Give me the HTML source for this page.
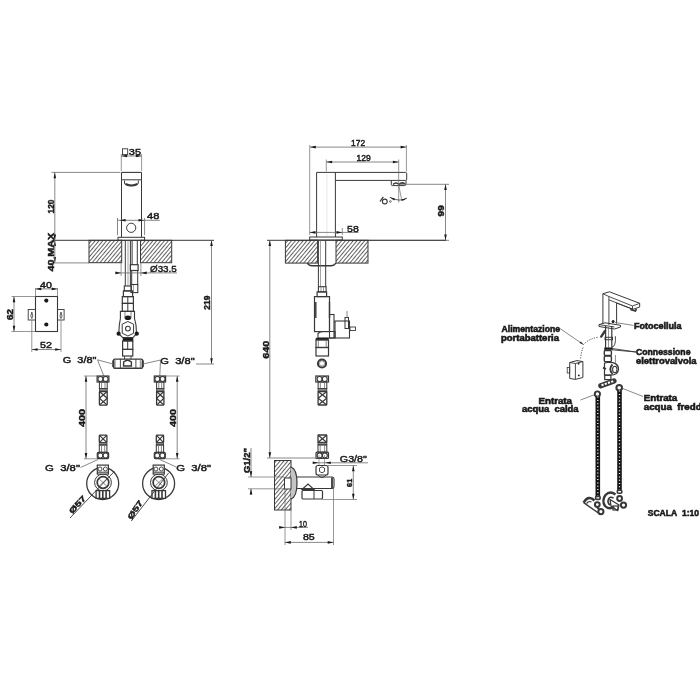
<!DOCTYPE html>
<html><head><meta charset="utf-8"><style>
html,body{margin:0;padding:0;background:#fff;width:700px;height:700px;overflow:hidden}
svg{display:block;will-change:transform}
text{font-family:"Liberation Sans",sans-serif;fill:#1a1a1a;stroke:#1a1a1a;stroke-width:0.55}
</style></head><body>
<svg width="700" height="700" viewBox="0 0 700 700">
<defs>
<pattern id="hatch" patternUnits="userSpaceOnUse" width="2.95" height="2.95" patternTransform="rotate(40)">
<line x1="0" y1="0" x2="0" y2="2.95" stroke="#202020" stroke-width="1.4"/>
</pattern>
</defs>
<g stroke="#383838" fill="none" stroke-linecap="butt">
<line x1="121.5" y1="172.4" x2="141.5" y2="172.4" stroke-width="1.1" />
<line x1="121.5" y1="172.4" x2="121.5" y2="237.3" stroke-width="1.0" />
<line x1="141.5" y1="172.4" x2="141.5" y2="237.3" stroke-width="1.0" />
<line x1="121.3" y1="179.8" x2="141.6" y2="179.8" stroke-width="1.0" />
<path d="M124.5,180.5 L124.5,183 Q125,186 131.4,186 Q137.8,186 138.3,183 L138.3,180.5" fill="none" stroke-width="1.0" />
<path d="M125.5,183.8 Q131.4,187 137.5,183.8" fill="none" stroke-width="1.8" />
<line x1="121.3" y1="154" x2="121.3" y2="171" stroke-width="0.7" stroke="#6a6a6a" />
<line x1="141.6" y1="154" x2="141.6" y2="171" stroke-width="0.7" stroke="#6a6a6a" />
<line x1="121.3" y1="156" x2="141.6" y2="156" stroke-width="0.8" stroke="#6a6a6a" />
<polygon points="121.3,156 127.1,154.7 127.1,157.3" fill="#1a1a1a" stroke="none"/>
<polygon points="141.6,156 135.8,157.3 135.8,154.7" fill="#1a1a1a" stroke="none"/>
<rect x="122.5" y="148.8" width="5.2" height="5.8" fill="none" stroke-width="0.9"/>
<text transform="translate(134.9,151.9) rotate(0) scale(1,0.8)" x="0" y="3.87" font-size="10.92" text-anchor="middle" font-weight="normal" textLength="12.2" lengthAdjust="spacingAndGlyphs">35</text>
<line x1="51.5" y1="172.4" x2="120.5" y2="172.4" stroke-width="0.8" stroke="#6a6a6a" />
<line x1="54.8" y1="172.4" x2="54.8" y2="240.3" stroke-width="0.8" stroke="#6a6a6a" />
<polygon points="54.8,172.4 56.1,178.2 53.5,178.2" fill="#1a1a1a" stroke="none"/>
<polygon points="54.8,240.3 53.5,234.5 56.1,234.5" fill="#1a1a1a" stroke="none"/>
<text transform="translate(50.65,206.5) rotate(-90) scale(1,0.8)" x="0" y="4.19" font-size="11.8" text-anchor="middle" stroke-width="0.45" font-weight="bold" textLength="14" lengthAdjust="spacingAndGlyphs">120</text>
<line x1="117.5" y1="218" x2="117.5" y2="235.2" stroke-width="0.8" stroke="#6a6a6a" />
<line x1="144.6" y1="218" x2="144.6" y2="235.2" stroke-width="0.8" stroke="#6a6a6a" />
<circle cx="131.2" cy="227.8" r="4.6" fill="none" stroke-width="1.0"/>
<line x1="117.5" y1="220.3" x2="159.9" y2="220.3" stroke-width="0.8" stroke="#6a6a6a" />
<polygon points="119.8,220.3 125.6,219 125.6,221.6" fill="#1a1a1a" stroke="none"/>
<polygon points="144.3,220.3 138.5,221.6 138.5,219" fill="#1a1a1a" stroke="none"/>
<text transform="translate(153.15,216) rotate(0) scale(1,0.8)" x="0" y="3.75" font-size="10.56" text-anchor="middle" font-weight="normal" textLength="12.3" lengthAdjust="spacingAndGlyphs">48</text>
<rect x="118" y="237.3" width="26.6" height="3" fill="none" stroke-width="1.0"/>
<line x1="51.5" y1="240.3" x2="214" y2="240.3" stroke-width="1.0" />
<line x1="51.5" y1="262.9" x2="89" y2="262.9" stroke-width="0.8" stroke="#6a6a6a" />
<text transform="translate(51,252.15) rotate(-90) scale(1,0.8)" x="0" y="3.75" font-size="10.56" text-anchor="middle" stroke-width="0.45" font-weight="bold" textLength="38.9" lengthAdjust="spacingAndGlyphs">40 MAX</text>
<polygon points="54.8,240.3 56.1,246.1 53.5,246.1" fill="#1a1a1a" stroke="none"/>
<polygon points="54.8,262.9 53.5,257.1 56.1,257.1" fill="#1a1a1a" stroke="none"/>
<line x1="54.8" y1="240.3" x2="54.8" y2="262.9" stroke-width="0.8" stroke="#6a6a6a" />
<rect x="89" y="240.3" width="32.7" height="22.4" fill="url(#hatch)" stroke-width="1.0"/>
<rect x="140.5" y="240.3" width="31.2" height="22.4" fill="url(#hatch)" stroke-width="1.0"/>
<line x1="125.3" y1="240.3" x2="125.3" y2="286" stroke-width="1.0" />
<line x1="130.4" y1="240.3" x2="130.4" y2="286" stroke-width="1.0" />
<line x1="128" y1="240.3" x2="128" y2="286" stroke-width="0.6" stroke="#6a6a6a" />
<line x1="132.1" y1="240.3" x2="132.1" y2="264.7" stroke-width="1.0" />
<line x1="137.3" y1="240.3" x2="137.3" y2="264.7" stroke-width="1.0" />
<rect x="130.4" y="264.7" width="7.7" height="5.8" fill="none" stroke-width="1.2"/>
<line x1="131.7" y1="270.5" x2="131.7" y2="284.6" stroke-width="1.0" />
<line x1="137.7" y1="270.5" x2="137.7" y2="284.6" stroke-width="1.0" />
<rect x="131" y="284.5" width="6.8" height="8.1" fill="none" stroke-width="1.1"/>
<line x1="133.5" y1="285" x2="133.5" y2="292.6" stroke-width="0.6" stroke="#6a6a6a" />
<line x1="121.1" y1="262.9" x2="121.1" y2="276" stroke-width="0.7" stroke="#6a6a6a" />
<line x1="140.9" y1="262.9" x2="140.9" y2="276" stroke-width="0.7" stroke="#6a6a6a" />
<line x1="116" y1="272.9" x2="177" y2="272.9" stroke-width="0.8" stroke="#6a6a6a" />
<polygon points="121.1,272.9 115.3,274.2 115.3,271.6" fill="#1a1a1a" stroke="none"/>
<polygon points="140.9,272.9 146.7,271.6 146.7,274.2" fill="#1a1a1a" stroke="none"/>
<text transform="translate(163.38,268.5) rotate(0) scale(1,0.8)" x="0" y="4.06" font-size="11.44" text-anchor="middle" font-weight="normal" textLength="26.75" lengthAdjust="spacingAndGlyphs">Ø33.5</text>
<line x1="211.5" y1="240.3" x2="211.5" y2="364" stroke-width="0.8" stroke="#6a6a6a" />
<polygon points="211.5,240.3 212.8,246.1 210.2,246.1" fill="#1a1a1a" stroke="none"/>
<polygon points="211.5,364 210.2,358.2 212.8,358.2" fill="#1a1a1a" stroke="none"/>
<text transform="translate(206.8,302.62) rotate(-90) scale(1,0.8)" x="0" y="4.38" font-size="12.32" text-anchor="middle" stroke-width="0.45" font-weight="bold" textLength="14.25" lengthAdjust="spacingAndGlyphs">219</text>
<line x1="196" y1="364" x2="214" y2="364" stroke-width="0.8" stroke="#6a6a6a" />
<rect x="35.5" y="296.5" width="22" height="35" fill="none" stroke-width="1.1"/>
<circle cx="46.3" cy="300.6" r="2.1" fill="#1a1a1a" stroke-width="0"/>
<circle cx="46.3" cy="324.5" r="2.1" fill="#1a1a1a" stroke-width="0"/>
<rect x="28.2" y="309.5" width="7.3" height="10.5" fill="none" stroke-width="0.9"/>
<rect x="57.5" y="309.5" width="6.6" height="10.5" fill="none" stroke-width="0.9"/>
<path d="M31.8,318.5 Q29.8,317 31.8,312 Q33.8,317 31.8,318.5 Z" fill="none" stroke-width="0.8" />
<path d="M61,318.5 Q59,317 61,312 Q63,317 61,318.5 Z" fill="none" stroke-width="0.8" />
<line x1="35.5" y1="288" x2="35.5" y2="296.5" stroke-width="0.7" stroke="#6a6a6a" />
<line x1="57.5" y1="288" x2="57.5" y2="296.5" stroke-width="0.7" stroke="#6a6a6a" />
<line x1="35.5" y1="288.9" x2="57.5" y2="288.9" stroke-width="0.8" stroke="#6a6a6a" />
<polygon points="35.5,288.9 41.3,287.6 41.3,290.2" fill="#1a1a1a" stroke="none"/>
<polygon points="57.5,288.9 51.7,290.2 51.7,287.6" fill="#1a1a1a" stroke="none"/>
<text transform="translate(45.9,284.75) rotate(0) scale(1,0.8)" x="0" y="3.69" font-size="10.39" text-anchor="middle" font-weight="normal" textLength="11.8" lengthAdjust="spacingAndGlyphs">40</text>
<line x1="11.5" y1="296.5" x2="35.5" y2="296.5" stroke-width="0.7" stroke="#6a6a6a" />
<line x1="11.5" y1="331.5" x2="35.5" y2="331.5" stroke-width="0.7" stroke="#6a6a6a" />
<line x1="14" y1="296.5" x2="14" y2="331.5" stroke-width="0.8" stroke="#6a6a6a" />
<polygon points="14,296.5 15.3,302.3 12.7,302.3" fill="#1a1a1a" stroke="none"/>
<polygon points="14,331.5 12.7,325.7 15.3,325.7" fill="#1a1a1a" stroke="none"/>
<text transform="translate(10.15,314.5) rotate(-90) scale(1,0.8)" x="0" y="3.94" font-size="11.09" text-anchor="middle" stroke-width="0.45" font-weight="bold" textLength="11" lengthAdjust="spacingAndGlyphs">62</text>
<line x1="31.8" y1="320" x2="31.8" y2="352" stroke-width="0.7" stroke="#6a6a6a" />
<line x1="61" y1="320" x2="61" y2="352" stroke-width="0.7" stroke="#6a6a6a" />
<line x1="31.8" y1="349.5" x2="61" y2="349.5" stroke-width="0.8" stroke="#6a6a6a" />
<polygon points="31.8,349.5 37.6,348.2 37.6,350.8" fill="#1a1a1a" stroke="none"/>
<polygon points="61,349.5 55.2,350.8 55.2,348.2" fill="#1a1a1a" stroke="none"/>
<text transform="translate(46.05,345.05) rotate(0) scale(1,0.8)" x="0" y="3.81" font-size="10.74" text-anchor="middle" font-weight="normal" textLength="11.9" lengthAdjust="spacingAndGlyphs">52</text>
<rect x="124.3" y="286" width="7.1" height="4.9" fill="none" stroke-width="1.1"/>
<rect x="123.4" y="290.9" width="9.2" height="5.7" fill="none" stroke-width="1.2"/>
<rect x="122.3" y="296.6" width="11.1" height="6.8" fill="none" stroke-width="1.2"/>
<rect x="122.3" y="303.4" width="11.1" height="8" fill="none" stroke-width="1.2"/>
<line x1="127.8" y1="296.6" x2="127.8" y2="311.4" stroke-width="1.0" />
<path d="M120.4,311.4 L134.5,311.4 L134.5,318.5 L136,325 L136.5,333.7 L133,337.5 L122.5,337.5 L118.8,333.7 L119.3,325 L120.4,318.5 Z" fill="none" stroke-width="1.1" />
<path d="M122.2,324.2 L127.9,321.5 L133.6,324.2 L133.6,333.2 L127.9,336 L122.2,333.2 Z" fill="none" stroke-width="1.0" />
<circle cx="127.9" cy="328.6" r="2.4" fill="none" stroke-width="1.1"/>
<ellipse cx="127.9" cy="317.8" rx="3.3" ry="2.3" fill="#1a1a1a" stroke-width="0" transform="rotate(0 127.9 317.8)"/>
<line x1="125" y1="312" x2="125" y2="318" stroke-width="0.8" stroke="#6a6a6a" />
<line x1="131" y1="312" x2="131" y2="318" stroke-width="0.8" stroke="#6a6a6a" />
<circle cx="118.6" cy="333.7" r="2.1" fill="#1a1a1a" stroke-width="0"/>
<circle cx="136.8" cy="333.7" r="2.1" fill="#1a1a1a" stroke-width="0"/>
<rect x="123" y="338" width="10" height="3" fill="#1a1a1a" stroke-width="0.6"/>
<rect x="122.6" y="341" width="10.2" height="8.4" fill="none" stroke-width="1.2"/>
<line x1="127.7" y1="341" x2="127.7" y2="349.4" stroke-width="1.0" />
<rect x="122.6" y="349.4" width="10.2" height="6.6" fill="none" stroke-width="1.2"/>
<line x1="124.5" y1="356" x2="124.5" y2="359.1" stroke-width="0.9" />
<line x1="131" y1="356" x2="131" y2="359.1" stroke-width="0.9" />
<rect x="113.4" y="359.1" width="29.3" height="9.1" fill="none" stroke-width="1.4" rx="1.5"/>
<line x1="113.4" y1="360.5" x2="113.4" y2="367" stroke-width="2.2" />
<line x1="142.7" y1="360.5" x2="142.7" y2="367" stroke-width="2.2" />
<line x1="115.1" y1="359.1" x2="115.1" y2="368.4" stroke-width="0.8" stroke="#6a6a6a" />
<line x1="120.4" y1="359.1" x2="120.4" y2="368.4" stroke-width="0.9" />
<line x1="135.9" y1="359.1" x2="135.9" y2="368.4" stroke-width="0.9" />
<line x1="140.3" y1="359.1" x2="140.3" y2="368.4" stroke-width="0.8" stroke="#6a6a6a" />
<path d="M123.6,366 L123.6,362 Q127.5,358.5 131.4,362 L131.4,366 Z" fill="none" stroke-width="1.4" />
<text transform="translate(79.6,359.9) rotate(0) scale(1,0.8)" x="0" y="3.75" font-size="10.56" text-anchor="middle" font-weight="normal" textLength="33.6" lengthAdjust="spacingAndGlyphs">G&#160;&#160;3/8&quot;</text>
<line x1="97.5" y1="359.8" x2="112.9" y2="364" stroke-width="0.8" stroke="#6a6a6a" />
<line x1="97.5" y1="359.8" x2="103.8" y2="376" stroke-width="0.8" stroke="#6a6a6a" />
<text transform="translate(177.45,360.45) rotate(0) scale(1,0.8)" x="0" y="3.81" font-size="10.74" text-anchor="middle" font-weight="normal" textLength="34.3" lengthAdjust="spacingAndGlyphs">G&#160;&#160;3/8&quot;</text>
<line x1="160.5" y1="360" x2="143" y2="364" stroke-width="0.8" stroke="#6a6a6a" />
<line x1="160.5" y1="360" x2="159.8" y2="376" stroke-width="0.8" stroke="#6a6a6a" />
<rect x="97.1" y="376" width="11.8" height="6" fill="none" stroke-width="1.2"/>
<circle cx="100.4" cy="379" r="2.5" fill="none" stroke-width="1.1"/>
<circle cx="105.6" cy="379" r="2.5" fill="none" stroke-width="1.1"/>
<rect x="99.4" y="382" width="7.8" height="6.6" fill="none" stroke-width="1.0"/>
<line x1="101.6" y1="382" x2="101.6" y2="388.6" stroke-width="0.8" stroke="#6a6a6a" />
<line x1="105" y1="382" x2="105" y2="388.6" stroke-width="0.8" stroke="#6a6a6a" />
<rect x="99.4" y="388.6" width="7.8" height="2.9" fill="#888" stroke-width="0.8"/>
<rect x="99.4" y="391.5" width="7.8" height="13.6" fill="none" stroke-width="1.3" rx="0.8"/>
<path d="M99.4,391.5 L107.2,398.3 M107.2,391.5 L99.4,398.3" fill="none" stroke-width="1.2" />
<path d="M99.4,398.3 L107.2,405.1 M107.2,398.3 L99.4,405.1" fill="none" stroke-width="1.2" />
<rect x="99.3" y="435.1" width="7.6" height="7.5" fill="none" stroke-width="1.3" rx="0.8"/>
<path d="M99.3,435.1 L106.9,442.6 M106.9,435.1 L99.3,442.6" fill="none" stroke-width="1.2" />
<rect x="99.3" y="442.6" width="7.6" height="2.4" fill="#888" stroke-width="0.8"/>
<rect x="99.3" y="445" width="7.6" height="7.3" fill="none" stroke-width="1.0"/>
<line x1="101.5" y1="445" x2="101.5" y2="452.3" stroke-width="0.8" stroke="#6a6a6a" />
<line x1="104.7" y1="445" x2="104.7" y2="452.3" stroke-width="0.8" stroke="#6a6a6a" />
<rect x="97.3" y="452.3" width="11.3" height="6.3" fill="none" stroke-width="1.2" rx="1"/>
<circle cx="100.35" cy="455.5" r="2.5" fill="none" stroke-width="1.1"/>
<circle cx="105.55" cy="455.5" r="2.5" fill="none" stroke-width="1.1"/>
<rect x="154.3" y="376" width="11.3" height="6" fill="none" stroke-width="1.2"/>
<circle cx="157.35" cy="379" r="2.5" fill="none" stroke-width="1.1"/>
<circle cx="162.55" cy="379" r="2.5" fill="none" stroke-width="1.1"/>
<rect x="156.6" y="382" width="7.3" height="6.6" fill="none" stroke-width="1.0"/>
<line x1="158.8" y1="382" x2="158.8" y2="388.6" stroke-width="0.8" stroke="#6a6a6a" />
<line x1="161.7" y1="382" x2="161.7" y2="388.6" stroke-width="0.8" stroke="#6a6a6a" />
<rect x="156.6" y="388.6" width="7.3" height="2.9" fill="#888" stroke-width="0.8"/>
<rect x="156.6" y="391.5" width="7.3" height="13.6" fill="none" stroke-width="1.3" rx="0.8"/>
<path d="M156.6,391.5 L163.9,398.3 M163.9,391.5 L156.6,398.3" fill="none" stroke-width="1.2" />
<path d="M156.6,398.3 L163.9,405.1 M163.9,398.3 L156.6,405.1" fill="none" stroke-width="1.2" />
<rect x="156.3" y="435.1" width="7.3" height="7.5" fill="none" stroke-width="1.3" rx="0.8"/>
<path d="M156.3,435.1 L163.6,442.6 M163.6,435.1 L156.3,442.6" fill="none" stroke-width="1.2" />
<rect x="156.3" y="442.6" width="7.3" height="2.4" fill="#888" stroke-width="0.8"/>
<rect x="156.3" y="445" width="7.3" height="7.3" fill="none" stroke-width="1.0"/>
<line x1="158.5" y1="445" x2="158.5" y2="452.3" stroke-width="0.8" stroke="#6a6a6a" />
<line x1="161.4" y1="445" x2="161.4" y2="452.3" stroke-width="0.8" stroke="#6a6a6a" />
<rect x="154.3" y="452.3" width="11" height="6.3" fill="none" stroke-width="1.2" rx="1"/>
<circle cx="157.2" cy="455.5" r="2.5" fill="none" stroke-width="1.1"/>
<circle cx="162.4" cy="455.5" r="2.5" fill="none" stroke-width="1.1"/>
<line x1="84" y1="376" x2="97" y2="376" stroke-width="0.7" stroke="#6a6a6a" />
<line x1="84" y1="458.8" x2="97" y2="458.8" stroke-width="0.7" stroke="#6a6a6a" />
<line x1="86" y1="376" x2="86" y2="458.8" stroke-width="0.8" stroke="#6a6a6a" />
<polygon points="86,376 87.3,381.8 84.7,381.8" fill="#1a1a1a" stroke="none"/>
<polygon points="86,458.8 84.7,453 87.3,453" fill="#1a1a1a" stroke="none"/>
<text transform="translate(81.95,418) rotate(-90) scale(1,0.8)" x="0" y="3.81" font-size="10.74" text-anchor="middle" stroke-width="0.45" font-weight="bold" textLength="18.2" lengthAdjust="spacingAndGlyphs">400</text>
<line x1="165.5" y1="376" x2="179.5" y2="376" stroke-width="0.7" stroke="#6a6a6a" />
<line x1="165.5" y1="458.8" x2="179.5" y2="458.8" stroke-width="0.7" stroke="#6a6a6a" />
<line x1="177.2" y1="376" x2="177.2" y2="458.8" stroke-width="0.8" stroke="#6a6a6a" />
<polygon points="177.2,376 178.5,381.8 175.9,381.8" fill="#1a1a1a" stroke="none"/>
<polygon points="177.2,458.8 175.9,453 178.5,453" fill="#1a1a1a" stroke="none"/>
<text transform="translate(173.3,418) rotate(-90) scale(1,0.8)" x="0" y="3.75" font-size="10.56" text-anchor="middle" stroke-width="0.45" font-weight="bold" textLength="18" lengthAdjust="spacingAndGlyphs">400</text>
<circle cx="102.7" cy="483.5" r="16" fill="none" stroke-width="1.3"/>
<circle cx="103" cy="482.5" r="8.4" fill="none" stroke-width="1.0"/>
<circle cx="103" cy="482.5" r="5.8" fill="none" stroke-width="1.7"/>
<line x1="99.2" y1="479" x2="106.7" y2="486" stroke-width="0.8" stroke="#6a6a6a" />
<line x1="106.7" y1="479" x2="99.2" y2="486" stroke-width="0.8" stroke="#6a6a6a" />
<rect x="97.3" y="465.1" width="11.1" height="9" fill="#fff" stroke-width="1.2"/>
<circle cx="100" cy="469" r="2" fill="none" stroke-width="0.9"/>
<circle cx="105.4" cy="469" r="2" fill="none" stroke-width="0.9"/>
<line x1="97.3" y1="472.2" x2="108.4" y2="472.2" stroke-width="1.0" />
<rect x="96.1" y="490.6" width="13.5" height="7.8" fill="#fff" stroke-width="1.3"/>
<line x1="99.5" y1="490.6" x2="99.5" y2="498.4" stroke-width="1.6" />
<line x1="102.8" y1="490.6" x2="102.8" y2="498.4" stroke-width="1.6" />
<line x1="106.1" y1="490.6" x2="106.1" y2="498.4" stroke-width="1.6" />
<line x1="70" y1="518" x2="114.4" y2="471.4" stroke-width="0.9" />
<circle cx="158.6" cy="483.5" r="16" fill="none" stroke-width="1.3"/>
<circle cx="158.9" cy="482.5" r="8.4" fill="none" stroke-width="1.0"/>
<circle cx="158.9" cy="482.5" r="5.8" fill="none" stroke-width="1.7"/>
<line x1="155.1" y1="479" x2="162.6" y2="486" stroke-width="0.8" stroke="#6a6a6a" />
<line x1="162.6" y1="479" x2="155.1" y2="486" stroke-width="0.8" stroke="#6a6a6a" />
<rect x="153.2" y="465.1" width="11.1" height="9" fill="#fff" stroke-width="1.2"/>
<circle cx="155.9" cy="469" r="2" fill="none" stroke-width="0.9"/>
<circle cx="161.3" cy="469" r="2" fill="none" stroke-width="0.9"/>
<line x1="153.2" y1="472.2" x2="164.3" y2="472.2" stroke-width="1.0" />
<rect x="152" y="490.6" width="13.5" height="7.8" fill="#fff" stroke-width="1.3"/>
<line x1="155.4" y1="490.6" x2="155.4" y2="498.4" stroke-width="1.6" />
<line x1="158.7" y1="490.6" x2="158.7" y2="498.4" stroke-width="1.6" />
<line x1="162" y1="490.6" x2="162" y2="498.4" stroke-width="1.6" />
<line x1="131.3" y1="521" x2="168.6" y2="473" stroke-width="0.9" />
<text transform="translate(62.5,467.95) rotate(0) scale(1,0.8)" x="0" y="3.81" font-size="10.74" text-anchor="middle" font-weight="normal" textLength="34.8" lengthAdjust="spacingAndGlyphs">G&#160;&#160;3/8&quot;</text>
<line x1="80.5" y1="467.5" x2="98" y2="459.5" stroke-width="0.8" stroke="#6a6a6a" />
<text transform="translate(193.65,468) rotate(0) scale(1,0.8)" x="0" y="3.75" font-size="10.56" text-anchor="middle" font-weight="normal" textLength="34.7" lengthAdjust="spacingAndGlyphs">G&#160;&#160;3/8&quot;</text>
<line x1="159.6" y1="459.5" x2="176.3" y2="467" stroke-width="0.8" stroke="#6a6a6a" />
<text transform="translate(77.3,504.6) rotate(-47) scale(1,0.8)" x="0" y="3.44" font-size="9.68" text-anchor="middle" stroke-width="0.45" font-weight="bold" textLength="21" lengthAdjust="spacingAndGlyphs">Ø57</text>
<text transform="translate(135.1,509.7) rotate(-56) scale(1,0.8)" x="0" y="3.44" font-size="9.68" text-anchor="middle" stroke-width="0.45" font-weight="bold" textLength="21" lengthAdjust="spacingAndGlyphs">Ø57</text>
<path d="M316.6,237 L316.6,172.4 L405.5,172.4 Q406.7,172.4 406.7,173.6 L406.7,179.2 Q406.7,180.4 405.5,180.4 L335.4,180.4" fill="none" stroke-width="1.0" />
<line x1="335.4" y1="172.4" x2="335.4" y2="237" stroke-width="1.0" />
<line x1="326.9" y1="174" x2="326.9" y2="236" stroke-width="0.5" stroke="#d0d0d0"/>
<path d="M391.3,180.4 L391.3,184.5 Q391.3,185.6 392.5,185.6 L404.5,185.6 Q406,185.6 406,184 L406,180.4" fill="none" stroke-width="1.0" />
<path d="M393,184.5 Q396,181.5 399,184.5 Q402,181.5 405,184" fill="none" stroke-width="1.6" />
<line x1="309.7" y1="145" x2="309.7" y2="235" stroke-width="0.7" stroke="#6a6a6a" />
<line x1="406.4" y1="145" x2="406.4" y2="171.5" stroke-width="0.7" stroke="#6a6a6a" />
<line x1="310" y1="147.1" x2="406.4" y2="147.1" stroke-width="0.8" stroke="#6a6a6a" />
<polygon points="310,147.1 315.8,145.8 315.8,148.4" fill="#1a1a1a" stroke="none"/>
<polygon points="406.4,147.1 400.6,148.4 400.6,145.8" fill="#1a1a1a" stroke="none"/>
<text transform="translate(358.05,142.6) rotate(0) scale(1,0.8)" x="0" y="3.87" font-size="10.92" text-anchor="middle" font-weight="normal" textLength="14.1" lengthAdjust="spacingAndGlyphs">172</text>
<line x1="326.3" y1="159.5" x2="326.3" y2="171.5" stroke-width="0.7" stroke="#6a6a6a" />
<line x1="398.7" y1="159.5" x2="398.7" y2="202.6" stroke-width="0.7" stroke="#6a6a6a" />
<line x1="326.3" y1="162" x2="398.7" y2="162" stroke-width="0.8" stroke="#6a6a6a" />
<polygon points="326.3,162 332.1,160.7 332.1,163.3" fill="#1a1a1a" stroke="none"/>
<polygon points="398.7,162 392.9,163.3 392.9,160.7" fill="#1a1a1a" stroke="none"/>
<text transform="translate(363.65,157.8) rotate(0) scale(1,0.8)" x="0" y="3.62" font-size="10.21" text-anchor="middle" font-weight="normal" textLength="14.1" lengthAdjust="spacingAndGlyphs">129</text>
<line x1="398.7" y1="185" x2="401.9" y2="201" stroke-width="0.7" stroke="#6a6a6a" />
<path d="M389.7,197.2 Q399.5,202.5 407,198.1" fill="none" stroke-width="0.8" />
<polygon points="390,197.4 394.95,198.61 394.11,200.42" fill="#1a1a1a" stroke="none"/>
<polygon points="406.8,198.2 402.53,200.99 401.79,199.13" fill="#1a1a1a" stroke="none"/>
<line x1="380" y1="201.5" x2="383.3" y2="196.8" stroke-width="1.3" />
<circle cx="384.8" cy="201.5" r="2.4" fill="none" stroke-width="1.1"/>
<circle cx="390.4" cy="201.5" r="0.9" fill="none" stroke-width="0.7"/>
<line x1="398" y1="184.3" x2="449" y2="184.3" stroke-width="0.8" stroke="#6a6a6a" />
<line x1="343" y1="240.3" x2="449" y2="240.3" stroke-width="0.8" stroke="#6a6a6a" />
<line x1="445.5" y1="184.3" x2="445.5" y2="240.3" stroke-width="0.8" stroke="#6a6a6a" />
<polygon points="445.5,184.3 446.8,190.1 444.2,190.1" fill="#1a1a1a" stroke="none"/>
<polygon points="445.5,240.3 444.2,234.5 446.8,234.5" fill="#1a1a1a" stroke="none"/>
<text transform="translate(440.85,210.8) rotate(-90) scale(1,0.8)" x="0" y="3.69" font-size="10.39" text-anchor="middle" stroke-width="0.45" font-weight="bold" textLength="11.2" lengthAdjust="spacingAndGlyphs">99</text>
<rect x="309.7" y="237" width="32.6" height="3" fill="none" stroke-width="1.0"/>
<line x1="342.3" y1="228" x2="342.3" y2="235" stroke-width="0.7" stroke="#6a6a6a" />
<line x1="309.7" y1="232.4" x2="358.6" y2="232.4" stroke-width="0.8" stroke="#6a6a6a" />
<polygon points="309.7,232.4 315.5,231.1 315.5,233.7" fill="#1a1a1a" stroke="none"/>
<polygon points="342.3,232.4 336.5,233.7 336.5,231.1" fill="#1a1a1a" stroke="none"/>
<text transform="translate(352.88,228.3) rotate(0) scale(1,0.8)" x="0" y="4.12" font-size="11.62" text-anchor="middle" font-weight="normal" textLength="11.75" lengthAdjust="spacingAndGlyphs">58</text>
<line x1="267" y1="240.3" x2="446" y2="240.3" stroke-width="1.0" />
<rect x="285.4" y="240.3" width="32.2" height="22.8" fill="url(#hatch)" stroke-width="1.0"/>
<rect x="336" y="240.3" width="32" height="22.8" fill="url(#hatch)" stroke-width="1.0"/>
<path d="M307.3,263.1 Q309,265.8 312,265.8 L331,265.8 Q334,265.8 336,263.1" fill="none" stroke-width="1.4" />
<line x1="318.4" y1="240.3" x2="318.4" y2="286.7" stroke-width="1.0" />
<line x1="325.7" y1="240.3" x2="325.7" y2="286.7" stroke-width="1.0" />
<line x1="320.5" y1="240.3" x2="320.5" y2="286.7" stroke-width="0.6" stroke="#6a6a6a" />
<rect x="318.4" y="286.7" width="7.7" height="5.2" fill="none" stroke-width="1.1"/>
<line x1="321" y1="286.7" x2="321" y2="291.9" stroke-width="0.7" stroke="#6a6a6a" />
<line x1="323.5" y1="286.7" x2="323.5" y2="291.9" stroke-width="0.7" stroke="#6a6a6a" />
<rect x="317.1" y="291.9" width="9.5" height="4.7" fill="none" stroke-width="1.2"/>
<rect x="314.5" y="296.6" width="15" height="35" fill="none" stroke-width="1.2"/>
<line x1="315.8" y1="302" x2="315.8" y2="318" stroke-width="1.4" />
<line x1="329.5" y1="302" x2="329.5" y2="318" stroke-width="1.4" />
<rect x="329.5" y="314.5" width="4.5" height="23.5" fill="none" stroke-width="1.1"/>
<rect x="335" y="321" width="14.5" height="17" fill="none" stroke-width="1.1"/>
<line x1="334" y1="322" x2="335" y2="322" stroke-width="1.0" />
<rect x="345" y="317.5" width="3.5" height="11" fill="none" stroke-width="1.0"/>
<line x1="347" y1="311" x2="347" y2="317.5" stroke-width="0.8" stroke="#6a6a6a" />
<rect x="350" y="327" width="5.5" height="3.5" fill="none" stroke-width="0.9"/>
<path d="M318,338 L318,333.5 Q320,331.5 323,331.5 L335,331.5 L335,338 Z" fill="none" stroke-width="1.1" />
<rect x="316" y="338" width="12.5" height="2" fill="#1a1a1a" stroke-width="0.5"/>
<rect x="316" y="340" width="12.5" height="7.5" fill="none" stroke-width="1.2"/>
<line x1="318.3" y1="340" x2="318.3" y2="347.5" stroke-width="0.8" stroke="#6a6a6a" />
<line x1="326.2" y1="340" x2="326.2" y2="347.5" stroke-width="0.8" stroke="#6a6a6a" />
<rect x="316" y="347.5" width="12.5" height="8.5" fill="none" stroke-width="1.2"/>
<circle cx="322" cy="363.5" r="4.1" fill="none" stroke-width="2.0"/>
<circle cx="322" cy="363.5" r="2.6" fill="none" stroke-width="0.5"/>
<line x1="269.8" y1="240.3" x2="269.8" y2="458" stroke-width="0.8" stroke="#6a6a6a" />
<polygon points="269.8,240.3 271.1,246.1 268.5,246.1" fill="#1a1a1a" stroke="none"/>
<polygon points="269.8,458 268.5,452.2 271.1,452.2" fill="#1a1a1a" stroke="none"/>
<text transform="translate(265.4,349.8) rotate(-90) scale(1,0.8)" x="0" y="4.12" font-size="11.62" text-anchor="middle" stroke-width="0.45" font-weight="bold" textLength="18" lengthAdjust="spacingAndGlyphs">640</text>
<line x1="267" y1="458" x2="316" y2="458" stroke-width="0.8" stroke="#6a6a6a" />
<rect x="315.8" y="376" width="12.7" height="6" fill="none" stroke-width="1.2"/>
<circle cx="319.55" cy="379" r="2.5" fill="none" stroke-width="1.1"/>
<circle cx="324.75" cy="379" r="2.5" fill="none" stroke-width="1.1"/>
<rect x="318.1" y="382" width="8.7" height="6.6" fill="none" stroke-width="1.0"/>
<line x1="320.3" y1="382" x2="320.3" y2="388.6" stroke-width="0.8" stroke="#6a6a6a" />
<line x1="324.6" y1="382" x2="324.6" y2="388.6" stroke-width="0.8" stroke="#6a6a6a" />
<rect x="318.1" y="388.6" width="8.7" height="2.9" fill="#888" stroke-width="0.8"/>
<rect x="318.1" y="391.5" width="8.7" height="13.5" fill="none" stroke-width="1.3" rx="0.8"/>
<path d="M318.1,391.5 L326.8,398.25 M326.8,391.5 L318.1,398.25" fill="none" stroke-width="1.2" />
<path d="M318.1,398.25 L326.8,405 M326.8,398.25 L318.1,405" fill="none" stroke-width="1.2" />
<rect x="318" y="435" width="8.8" height="7.5" fill="none" stroke-width="1.3" rx="0.8"/>
<path d="M318,435 L326.8,442.5 M326.8,435 L318,442.5" fill="none" stroke-width="1.2" />
<rect x="318" y="442.5" width="8.8" height="2.4" fill="#888" stroke-width="0.8"/>
<rect x="318" y="444.9" width="8.8" height="7.3" fill="none" stroke-width="1.0"/>
<line x1="320.2" y1="444.9" x2="320.2" y2="452.2" stroke-width="0.8" stroke="#6a6a6a" />
<line x1="324.6" y1="444.9" x2="324.6" y2="452.2" stroke-width="0.8" stroke="#6a6a6a" />
<rect x="316" y="452.2" width="12.5" height="6.3" fill="none" stroke-width="1.2" rx="1"/>
<circle cx="319.65" cy="455.4" r="2.5" fill="none" stroke-width="1.1"/>
<circle cx="324.85" cy="455.4" r="2.5" fill="none" stroke-width="1.1"/>
<line x1="313" y1="462.8" x2="368" y2="462.8" stroke-width="0.8" stroke="#6a6a6a" />
<polygon points="318.5,462.8 312.7,464.1 312.7,461.5" fill="#1a1a1a" stroke="none"/>
<polygon points="325,462.8 330.8,461.5 330.8,464.1" fill="#1a1a1a" stroke="none"/>
<line x1="319" y1="455" x2="319" y2="465" stroke-width="0.6" stroke="#6a6a6a" />
<line x1="324.5" y1="455" x2="324.5" y2="465" stroke-width="0.6" stroke="#6a6a6a" />
<text transform="translate(353.3,458.55) rotate(0) scale(1,0.8)" x="0" y="3.94" font-size="11.09" text-anchor="middle" font-weight="normal" textLength="27" lengthAdjust="spacingAndGlyphs">G3/8&quot;</text>
<rect x="274.5" y="460.5" width="16.5" height="49.5" fill="url(#hatch)" stroke-width="1.0"/>
<path d="M291,467 Q297,469 297,483 Q297,497 291,499" fill="#c4c4c4" stroke-width="1.2" />
<path d="M297,477 L332.5,477 Q334,477 334,479 L334,486.5 Q334,488.5 332.5,488.5 L297,488.5" fill="none" stroke-width="1.1" />
<line x1="332" y1="477.5" x2="332" y2="488" stroke-width="1.8" />
<rect x="284.5" y="478" width="6.5" height="11" fill="#fff" stroke-width="1.0"/>
<line x1="285" y1="489" x2="285" y2="545" stroke-width="0.7" stroke="#6a6a6a" />
<line x1="291" y1="510" x2="291" y2="530" stroke-width="0.7" stroke="#6a6a6a" />
<line x1="248" y1="477" x2="284.5" y2="477" stroke-width="0.7" stroke="#6a6a6a" />
<line x1="248" y1="488.8" x2="284.5" y2="488.8" stroke-width="0.7" stroke="#6a6a6a" />
<line x1="251" y1="448" x2="251" y2="477" stroke-width="0.8" stroke="#6a6a6a" />
<polygon points="251,477 249.7,471.2 252.3,471.2" fill="#1a1a1a" stroke="none"/>
<line x1="251" y1="488.8" x2="251" y2="495" stroke-width="0.8" stroke="#6a6a6a" />
<polygon points="251,488.8 252.3,494.6 249.7,494.6" fill="#1a1a1a" stroke="none"/>
<text transform="translate(247.3,460.55) rotate(-90) scale(1,0.8)" x="0" y="3.75" font-size="10.56" text-anchor="middle" stroke-width="0.45" font-weight="bold" textLength="25.1" lengthAdjust="spacingAndGlyphs">G1/2&quot;</text>
<path d="M302,489.5 L308,484 L314,489.5 Z" fill="none" stroke-width="1.1" />
<rect x="302" y="490.5" width="20.5" height="8.5" fill="none" stroke-width="1.2" rx="1"/>
<line x1="314" y1="490.5" x2="314" y2="499" stroke-width="1.0" />
<rect x="316" y="465.5" width="12" height="9.5" fill="none" stroke-width="1.2" rx="2"/>
<path d="M319.5,468 L322,466.8 L324.5,468 L324.5,471.5 L322,472.8 L319.5,471.5 Z" fill="none" stroke-width="0.9" />
<path d="M318,475 Q322,480 326,475" fill="none" stroke-width="1.0" />
<line x1="328" y1="465.5" x2="357" y2="465.5" stroke-width="0.7" stroke="#6a6a6a" />
<line x1="322.5" y1="499.5" x2="357" y2="499.5" stroke-width="0.7" stroke="#6a6a6a" />
<line x1="353.3" y1="465.5" x2="353.3" y2="499.5" stroke-width="0.8" stroke="#6a6a6a" />
<polygon points="353.3,465.5 354.6,471.3 352,471.3" fill="#1a1a1a" stroke="none"/>
<polygon points="353.3,499.5 352,493.7 354.6,493.7" fill="#1a1a1a" stroke="none"/>
<text transform="translate(349.25,482.85) rotate(-90) scale(1,0.8)" x="0" y="3.56" font-size="10.04" text-anchor="middle" stroke-width="0.45" font-weight="bold" textLength="8.1" lengthAdjust="spacingAndGlyphs">61</text>
<line x1="333.5" y1="488.5" x2="333.5" y2="545" stroke-width="0.7" stroke="#6a6a6a" />
<line x1="279" y1="527.4" x2="308" y2="527.4" stroke-width="0.8" stroke="#6a6a6a" />
<polygon points="285,527.4 279.2,528.7 279.2,526.1" fill="#1a1a1a" stroke="none"/>
<polygon points="291,527.4 296.8,526.1 296.8,528.7" fill="#1a1a1a" stroke="none"/>
<text transform="translate(303.05,523.45) rotate(0) scale(1,0.8)" x="0" y="4.19" font-size="11.8" text-anchor="middle" font-weight="normal" textLength="7.9" lengthAdjust="spacingAndGlyphs">10</text>
<line x1="285" y1="542.4" x2="333.5" y2="542.4" stroke-width="0.8" stroke="#6a6a6a" />
<polygon points="285,542.4 290.8,541.1 290.8,543.7" fill="#1a1a1a" stroke="none"/>
<polygon points="333.5,542.4 327.7,543.7 327.7,541.1" fill="#1a1a1a" stroke="none"/>
<text transform="translate(308.8,537.2) rotate(0) scale(1,0.8)" x="0" y="3.63" font-size="10.21" text-anchor="middle" font-weight="normal" textLength="11.8" lengthAdjust="spacingAndGlyphs">85</text>
<path d="M602.9,323.7 L602.9,293.7 L609.5,291.8 L639.7,303.3 L639.7,307 L633,309.3 L616.6,303 L616.6,323.7" fill="none" stroke-width="1.0" />
<path d="M602.9,293.7 L608.9,296.5 L632.5,306 L639.7,303.3" fill="none" stroke-width="0.9" />
<line x1="608.9" y1="296.5" x2="608.9" y2="325" stroke-width="0.9" />
<line x1="608.9" y1="299.8" x2="632.5" y2="309.2" stroke-width="0.9" />
<line x1="632.5" y1="306" x2="632.5" y2="309.3" stroke-width="0.9" />
<path d="M630.3,309.6 L635.4,311 L636.5,309" fill="none" stroke-width="1.6" />
<path d="M599,324.6 L605,322.8 L620.5,325.3 L620.5,327 L614.5,329 L599,326.5 Z" fill="none" stroke-width="1.0" />
<line x1="599" y1="324.6" x2="614.5" y2="327" stroke-width="0.9" />
<circle cx="613.1" cy="321.6" r="1.5" fill="#1a1a1a" stroke-width="0"/>
<line x1="615" y1="322.5" x2="633.5" y2="325.4" stroke-width="0.8" stroke="#6a6a6a" />
<text x="634" y="328.5" font-size="8.4" font-weight="bold" textLength="47.5" lengthAdjust="spacingAndGlyphs">Fotocellula</text>
<text x="501.5" y="332" font-size="8.4" font-weight="bold" textLength="58.5" lengthAdjust="spacingAndGlyphs">Alimentazione</text>
<text x="501" y="340.5" font-size="8.4" font-weight="bold" textLength="58" lengthAdjust="spacingAndGlyphs">portabatteria</text>
<line x1="560" y1="328.5" x2="583.4" y2="344.6" stroke-width="0.8" stroke="#6a6a6a" />
<polygon points="583.4,344.6 579.56,343.09 580.73,341.46" fill="#1a1a1a" stroke="none"/>
<path d="M583.4,344.6 Q589,338.5 598.9,337.1" fill="none" stroke-width="0.9" stroke-dasharray="1.2,1.3"/>
<path d="M583,347.5 Q581,353 580.6,358.9" fill="none" stroke-width="0.9" stroke-dasharray="1.2,1.3"/>
<path d="M569.7,362.5 L577,360.6 L582.9,361.6 L582.9,377.5 L575.4,379.4 L569.7,378.4 Z" fill="none" stroke-width="1.0" />
<line x1="569.7" y1="362.5" x2="575.4" y2="363.5" stroke-width="0.9" />
<line x1="575.4" y1="363.5" x2="582.9" y2="361.6" stroke-width="0.9" />
<line x1="575.4" y1="363.5" x2="575.4" y2="379.4" stroke-width="0.9" />
<rect x="567.2" y="367.5" width="2.5" height="5.5" fill="none" stroke-width="0.8"/>
<circle cx="578.6" cy="363.7" r="0.9" fill="#1a1a1a" stroke-width="0"/>
<circle cx="578.8" cy="375.4" r="0.9" fill="#1a1a1a" stroke-width="0"/>
<line x1="605.6" y1="326" x2="605.6" y2="348" stroke-width="1.2" />
<line x1="611.8" y1="326" x2="611.8" y2="348" stroke-width="1.2" />
<line x1="608.5" y1="327" x2="608.5" y2="348" stroke-width="0.7" stroke="#6a6a6a" />
<path d="M605,331 L601.2,336.6" fill="none" stroke-width="2.4" stroke-linecap="round"/>
<rect x="605" y="337.3" width="7.5" height="2.4" fill="none" stroke-width="1.0"/>
<path d="M615.4,336.2 Q616,346.8 612,347" fill="none" stroke-width="0.9" />
<rect x="604.5" y="347.8" width="8" height="2" fill="#1a1a1a" stroke-width="0.5"/>
<rect x="604.3" y="350.5" width="7.1" height="5" fill="none" stroke-width="1.4" rx="1"/>
<rect x="604.3" y="356" width="7.1" height="5.6" fill="none" stroke-width="1.4" rx="1"/>
<line x1="612" y1="348.5" x2="636" y2="352" stroke-width="0.9" />
<line x1="612" y1="349.8" x2="636" y2="352" stroke-width="0.9" />
<line x1="615.4" y1="355" x2="615.4" y2="363" stroke-width="0.8" stroke="#6a6a6a" />
<text x="636" y="355" font-size="8.4" font-weight="bold" textLength="54.5" lengthAdjust="spacingAndGlyphs">Connessione</text>
<text x="636" y="363.5" font-size="8.4" font-weight="bold" textLength="60.5" lengthAdjust="spacingAndGlyphs">elettrovalvola</text>
<path d="M604.5,363 L607.5,362.5 Q618.5,362 618.5,369 Q618.5,375.2 610,375.2 L604.5,375.2 Z" fill="none" stroke-width="1.2" />
<path d="M612.5,364.5 Q608,369 612.5,374" fill="none" stroke-width="1.8" />
<ellipse cx="614.8" cy="369.5" rx="2.2" ry="3.2" fill="none" stroke-width="1.1" transform="rotate(0 614.8 369.5)"/>
<line x1="603" y1="367.6" x2="606" y2="369" stroke-width="1.8" />
<rect x="604.7" y="375.2" width="6.2" height="4.4" fill="none" stroke-width="1.2"/>
<path d="M600.8,385.8 L614,381" fill="none" stroke-width="5.2" stroke-linecap="round"/>
<path d="M601.5,385.2 L613.3,381.2" fill="none" stroke-width="2.0" stroke="#fff" stroke-dasharray="2.2,1.2" stroke-linecap="butt"/>
<text x="538.5" y="403.5" font-size="8.4" font-weight="bold" textLength="33.5" lengthAdjust="spacingAndGlyphs">Entrata</text>
<text x="522" y="411.5" font-size="8.4" font-weight="bold" textLength="56.5" lengthAdjust="spacingAndGlyphs">acqua&#160;&#160;calda</text>
<line x1="580.5" y1="400" x2="595" y2="394.5" stroke-width="0.8" stroke="#6a6a6a" />
<text x="643.8" y="401.2" font-size="8.4" font-weight="bold" textLength="33.4" lengthAdjust="spacingAndGlyphs">Entrata</text>
<text x="643.8" y="409.6" font-size="8.4" font-weight="bold" textLength="63.2" lengthAdjust="spacingAndGlyphs">acqua&#160;&#160;fredda</text>
<line x1="643" y1="396.5" x2="621.5" y2="388" stroke-width="0.8" stroke="#6a6a6a" />
<circle cx="597.4" cy="394" r="2.6" fill="none" stroke-width="1.9"/>
<circle cx="597.4" cy="394" r="0.8" fill="#fff" stroke-width="0"/>
<line x1="597.8" y1="396.6" x2="597.8" y2="496.6" stroke="#151515" stroke-width="4.6"/>
<line x1="597.8" y1="396.6" x2="597.8" y2="496.6" stroke="#fff" stroke-width="1.3" stroke-dasharray="1.0,2.3"/>
<rect x="595.6" y="496.4" width="4.5" height="3" fill="none" stroke-width="1.6" rx="1"/>
<circle cx="619.2" cy="387.8" r="2.8" fill="none" stroke-width="2.0"/>
<circle cx="619.2" cy="387.8" r="0.8" fill="#fff" stroke-width="0"/>
<line x1="619.5" y1="390.6" x2="619.5" y2="490.5" stroke="#151515" stroke-width="4.6"/>
<line x1="619.5" y1="390.6" x2="619.5" y2="490.5" stroke="#fff" stroke-width="1.3" stroke-dasharray="1.0,2.3"/>
<rect x="617.3" y="490.2" width="4.5" height="3" fill="none" stroke-width="1.6" rx="1"/>
<path d="M583.6,502.6 Q588.5,494.5 594.5,500.5" fill="none" stroke-width="2.6" />
<path d="M586.5,503.5 Q589,500.5 591.5,502" fill="none" stroke-width="1.2" />
<path d="M583.6,502.6 L600.5,514.5" fill="none" stroke-width="1.3" />
<circle cx="597.3" cy="504.6" r="2.4" fill="none" stroke-width="2.0"/>
<circle cx="597.3" cy="504.6" r="0.7" fill="#fff" stroke-width="0"/>
<circle cx="600.9" cy="511.6" r="2.6" fill="none" stroke-width="2.0"/>
<circle cx="600.9" cy="511.6" r="0.8" fill="#fff" stroke-width="0"/>
<path d="M597,507 L599,509" fill="none" stroke-width="2.2" />
<path d="M615.5,494.5 Q610,490.5 605.5,495 Q601.5,500.5 605,506 Q609,510 614,507" fill="none" stroke-width="2.4" />
<path d="M613.5,498 Q610,496 608.5,499 Q607,503 610,505" fill="none" stroke-width="1.6" />
<path d="M610,499.5 L619,505 L617.5,510.5 L611,506 Z" fill="none" stroke-width="1.3" />
<circle cx="619.6" cy="498.5" r="2.4" fill="none" stroke-width="2.0"/>
<circle cx="619.6" cy="498.5" r="0.7" fill="#fff" stroke-width="0"/>
<circle cx="623.5" cy="505.1" r="2.6" fill="none" stroke-width="2.0"/>
<circle cx="623.5" cy="505.1" r="0.8" fill="#fff" stroke-width="0"/>
<rect x="613" y="506" width="5" height="4" fill="none" stroke-width="1.2"/>
<text x="647.7" y="515.9" font-size="9" font-weight="bold" textLength="51.4" lengthAdjust="spacingAndGlyphs">SCALA&#160;&#160;1:10</text>
</g>
</svg>
</body></html>
